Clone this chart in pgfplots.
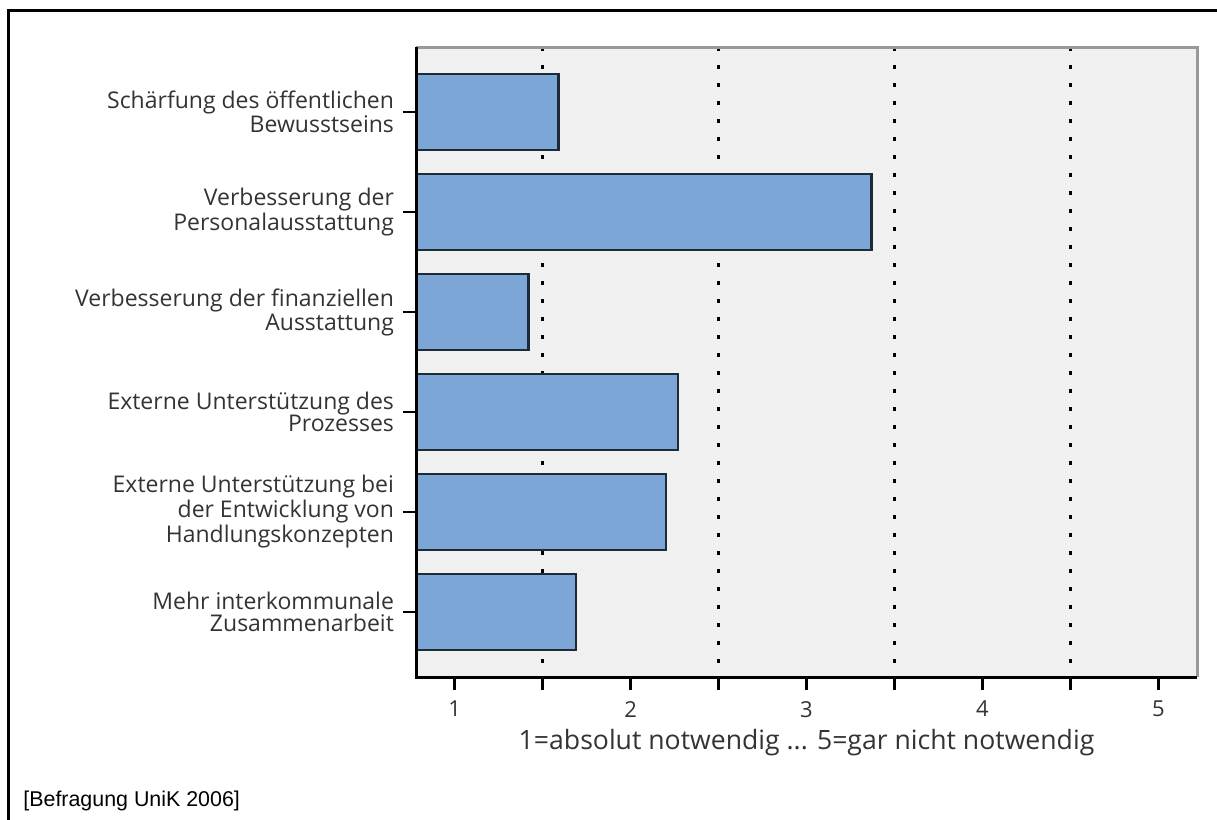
\documentclass[border=0pt]{standalone}
\usepackage{fontspec}
\setmainfont{Open Sans}
\newfontfamily\arialfont{Liberation Sans}
\usepackage{pgfplots}
\pgfplotsset{compat=1.18}
\definecolor{barfill}{HTML}{7BA6D6}
\definecolor{bardraw}{HTML}{1E2A38}
\definecolor{bggray}{HTML}{F0F0F0}
\definecolor{txt}{HTML}{333333}
\begin{document}
\begin{tikzpicture}
\useasboundingbox (0,0) rectangle (608.5pt,-410pt);
\draw[line width=1.5pt] (4pt,-410pt) -- (4pt,-5pt) -- (608.5pt,-5pt);
\begin{axis}[name=ax, at={(208pt,-23.5pt)}, anchor=north west,
  scale only axis, width=390.5pt, height=315pt,
  xmin=0.78, xmax=5.22, ymin=0.35, ymax=6.65, y dir=reverse,
  xtick={1,2,3,4,5}, minor xtick={1.5,2.5,3.5,4.5}, ytick={1,2,3,4,5,6},
  yticklabels={{Schärfung des öffentlichen\\Bewusstseins},
               {Verbesserung der\\Personalausstattung},
               {Verbesserung der finanziellen\\Ausstattung},
               {Externe Unterstützung des\\Prozesses},
               {Externe Unterstützung bei\\der Entwicklung von\\Handlungskonzepten},
               {Mehr interkommunale\\Zusammenarbeit}},
  yticklabel style={align=right, font=\fontsize{11.5}{11}\selectfont, text=txt, xshift=-1pt},
  xticklabel style={font=\fontsize{11}{12}\selectfont, text=txt, yshift=-2pt},
  /pgf/number format/assume math mode=true,
  tick align=outside, xtick pos=bottom, ytick pos=left,
  major tick length=6.5pt, minor tick length=6.5pt,
  tick style={black, line width=1.2pt},
  xminorgrids=true,
  minor x grid style={black, line width=1.4pt, dash pattern=on 2.2pt off 6.8pt},
  axis line style={draw=none},
  axis background/.style={fill=bggray},
  xlabel={1=absolut notwendig ... 5=gar nicht notwendig},
  xlabel style={font=\fontsize{13.3}{14}\selectfont, text=txt, yshift=1pt},
  xbar, bar width=38pt,
]
\addplot[fill=barfill, draw=bardraw, line width=1.1pt] coordinates {(1.59,1) (3.37,2) (1.42,3) (2.27,4) (2.20,5) (1.69,6)};
\end{axis}
\draw[black!40, line width=1.5pt] (ax.south east) -- (ax.north east) -- (ax.north west);
\draw[black, line width=1.5pt] (ax.north west) -- (ax.south west) -- (ax.south east);
\node[anchor=base west, font=\arialfont\fontsize{10.7}{12}\selectfont, inner sep=0pt] at (11.5pt,-403pt) {[Befragung UniK 2006]};
\end{tikzpicture}
\end{document}
